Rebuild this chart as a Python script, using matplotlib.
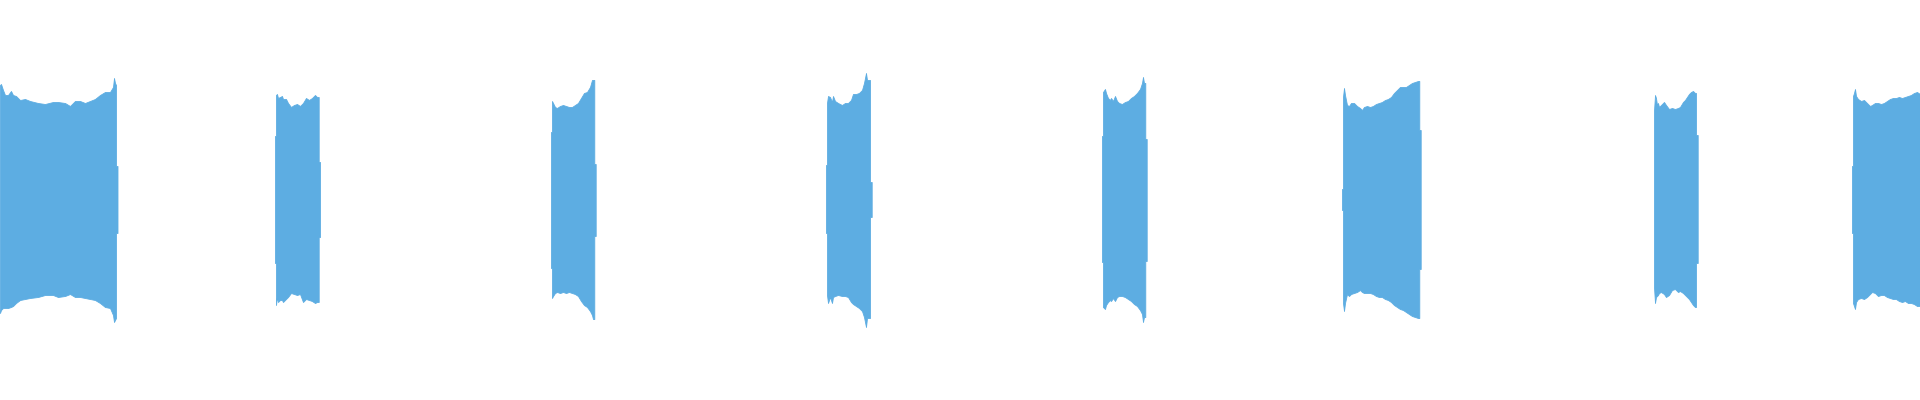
import matplotlib
matplotlib.use("Agg")
import matplotlib.pyplot as plt

# Waveform envelope (peak level in % of full scale) for each burst.
# t = column position along the time axis, hi/lo = max/min sample level.
WAVE_COLOR = "#5dade2"

t1 = [0, 1, 3, 5, 8, 11, 13, 16, 20, 25, 30, 38, 45, 53, 58, 65, 70, 75, 80, 85,
      90, 95, 100, 105, 110, 113, 114, 115, 116, 116, 117.5]
hi1 = [57.5, 58, 55, 52.5, 52.5, 54.5, 52.5, 52, 50, 50.5, 49.5, 48.5, 48, 49, 49,
       48.5, 47, 49.5, 49.5, 48.5, 49.5, 50.5, 52.5, 54, 54, 56.5, 61, 58.5, 57.5, 17, 17]
lo1 = [-56.5, -55, -54, -54, -54, -53.5, -53, -51.5, -50, -49.5, -49, -48.5, -47.5,
       -47.5, -48.5, -48, -47, -48.5, -48.5, -49, -49.5, -50, -51.5, -53.5, -54, -57.5,
       -61, -60, -59, -16.5, -16.5]

t2 = [275, 276, 276, 277, 278, 280, 282, 283, 286, 288, 291, 294, 297, 300, 303, 306,
      309, 312, 315, 317, 318.7, 318.7, 320]
hi2 = [32, 32, 52.5, 53, 51, 51.5, 52, 50.5, 50.5, 48.5, 46.5, 47.5, 48, 47, 48.5, 51,
       50, 51, 52.5, 51.5, 51.5, 19, 19]
lo2 = [-31.5, -31.5, -52.5, -48.5, -51, -50, -50, -51, -49.5, -48.5, -46.5, -47, -47.5,
       -47, -51, -49.5, -50, -50.5, -51.5, -51, -51, -18.5, -18.5]

t3 = [551, 552, 552, 553, 555, 557, 560, 563, 566, 569, 572, 575, 578, 581, 584, 587,
      590, 592, 593, 594.3, 594.3, 595.7]
hi3 = [34, 34, 49.5, 48.5, 46.5, 46, 47, 47.5, 47, 46.5, 46.5, 47.5, 48.5, 51, 53.5, 54,
       56.5, 60, 60, 60, 18, 18]
lo3 = [-34, -34, -49, -48, -46.5, -46, -46.5, -46, -46.5, -46, -46.5, -47, -48, -50.5,
       -52.5, -53.5, -55.5, -57.5, -59.5, -59.5, -18, -18]

t4 = [826, 827, 827, 828, 830, 832, 833, 835, 838, 842, 845, 848, 851, 853, 856, 859,
      862, 864, 866, 867, 870, 870, 871.7]
hi4 = [17.5, 17.5, 48.5, 52, 51.5, 49, 52, 49.5, 48.5, 47.5, 48.5, 48.5, 50, 53, 53,
       53.5, 55, 58.5, 63.5, 60, 60, 9, 9]
lo4 = [-16.5, -16.5, -47.5, -51.5, -48.5, -51.5, -48.5, -48, -47.5, -48, -48, -48.5,
       -51, -52, -53, -54, -55.5, -58.5, -63.5, -59, -59, -8.5, -8.5]

t5 = [1102, 1103, 1103, 1105, 1106, 1108, 1110, 1111, 1113, 1115, 1117, 1119, 1122,
      1125, 1128, 1131, 1134, 1137, 1140, 1142, 1143, 1144, 1145.3, 1145.3, 1146.7]
hi5 = [32, 32, 54, 55.5, 53.5, 51, 50, 51, 49.5, 52, 49.5, 48.5, 48, 49, 49.5, 51, 52,
       53.5, 55.5, 58.5, 61.5, 58.5, 58.5, 30.5, 30.5]
lo5 = [-31, -31, -53.5, -54.5, -52.5, -51, -50, -50.5, -49, -50.5, -48.5, -48, -48,
       -48.5, -49.5, -50.5, -52, -53, -55, -57, -61, -58.5, -58.5, -30.5, -30.5]

t6 = [1342, 1343, 1343, 1344, 1345, 1347, 1349, 1351, 1354, 1357, 1360, 1362, 1364,
      1367, 1370, 1373, 1376, 1379, 1382, 1385, 1388, 1391, 1394, 1397, 1400, 1403,
      1406, 1409, 1412, 1415, 1418, 1419.3, 1419.3, 1420.7]
hi6 = [5.5, 5.5, 51.5, 56, 52.5, 47.5, 47, 48.5, 48.5, 47, 46, 45, 46.5, 47, 46.5, 47,
       48, 48.5, 49, 50, 50.5, 51.5, 53.5, 55, 56.5, 56.5, 56.5, 57.5, 58.5, 59, 59.5,
       59.5, 35, 35]
lo6 = [-5, -5, -51.5, -55.5, -51.5, -47, -48, -47, -46.5, -46, -45, -46, -46.5, -46.5,
       -46.5, -47, -48, -48.5, -48.5, -49.5, -50, -51, -52.5, -53.5, -54.5, -55, -56,
       -57, -58, -58.5, -59, -59, -34.5, -34.5]

t7 = [1654, 1655, 1656, 1657, 1658, 1659, 1661, 1664, 1666, 1669, 1672, 1675, 1678,
      1680, 1683, 1685, 1687, 1689, 1691, 1693, 1695, 1696, 1696, 1697.7]
hi7 = [44.5, 52.5, 51, 47.5, 48.5, 46.5, 47.5, 49, 47.5, 45.5, 46, 45.5, 46, 46.5, 49,
       50, 51.5, 53, 54, 54.5, 53.5, 53.5, 32.5, 32.5]
lo7 = [-43.5, -51.5, -48.5, -48, -47.5, -46.5, -46, -47, -48.5, -47.5, -45, -44.5, -46,
       -45.5, -46.5, -47.5, -48.5, -49.5, -51, -52.5, -53.5, -53.5, -31.5, -31.5]

t8 = [1852, 1853, 1853, 1854, 1855, 1856, 1858, 1861, 1864, 1867, 1870, 1872, 1875,
      1878, 1881, 1884, 1887, 1890, 1893, 1896, 1899, 1902, 1905, 1908, 1911, 1914,
      1917, 1920]
hi8 = [17, 17, 52, 53.5, 55.5, 52, 50.5, 49.5, 50, 48.5, 47, 47.5, 48.5, 48.5, 48, 48.5,
       49.5, 50.5, 51, 51, 51.5, 51, 51.5, 52, 52.5, 53.5, 54, 53]
lo8 = [-16.5, -16.5, -51.5, -53, -54.5, -51, -49.5, -49, -49.5, -48.5, -47, -46, -46.5,
       -48, -47.5, -47.5, -48.5, -49, -49.5, -49.5, -50.5, -51, -50.5, -51.5, -51.5, -52,
       -53, -53]

bursts = [(t1, hi1, lo1), (t2, hi2, lo2), (t3, hi3, lo3), (t4, hi4, lo4),
          (t5, hi5, lo5), (t6, hi6, lo6), (t7, hi7, lo7), (t8, hi8, lo8)]


def main():
    fig = plt.figure(figsize=(19.2, 4), dpi=100)
    ax = fig.add_axes([0, 0, 1, 1])

    for t, hi, lo in bursts:
        ax.fill_between(t, lo, hi, color=WAVE_COLOR, linewidth=0.6,
                        edgecolor=WAVE_COLOR)

    ax.set_xlim(0, 1920)
    ax.set_ylim(-100, 100)
    ax.axis("off")

    fig.savefig("out.png", dpi=100, facecolor="white")


if __name__ == "__main__":
    main()
